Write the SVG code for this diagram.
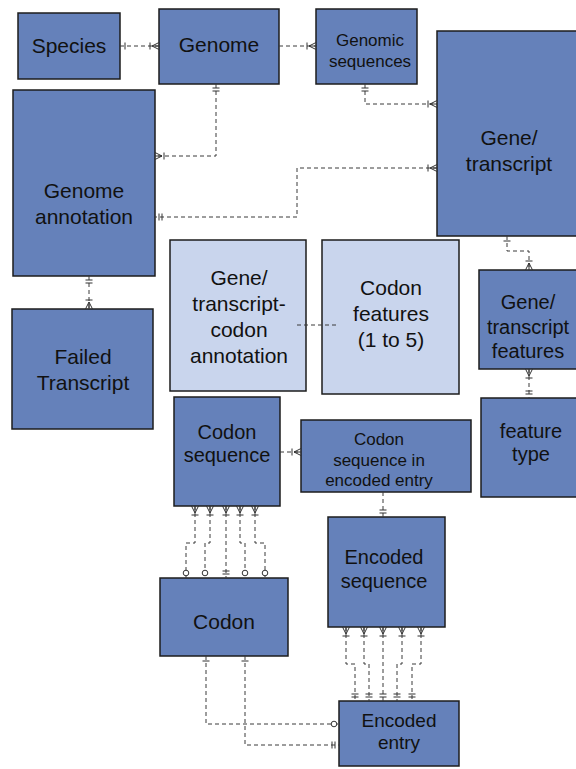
<svg xmlns="http://www.w3.org/2000/svg" width="576" height="769" viewBox="0 0 576 769">
<style>
.b{fill:#6581ba;stroke:#1c1c1c;stroke-width:1.5}
.l{fill:#c9d5ed;stroke:#1c1c1c;stroke-width:1.5}
text{font-family:"Liberation Sans",Arial,sans-serif;fill:#111;text-anchor:middle}
.t21{font-size:21px}
.t17{font-size:17px}
.t20{font-size:20px}
.t19{font-size:19px}
.c path{fill:none;stroke:#3a3a3a;stroke-width:1;stroke-dasharray:4 3}
.m{fill:none;stroke:#333;stroke-width:1}
</style>
<defs>
<marker id="crow" viewBox="-12 -6 13 12" markerWidth="13" markerHeight="12" refX="0" refY="0" orient="auto-start-reverse" markerUnits="userSpaceOnUse">
<path class="m" d="M-7,0 L0,-3.5 M-7,0 L0,0 M-7,0 L0,3.5 M-9,-3.5 V3.5"/>
</marker>
<marker id="dbl" viewBox="-12 -6 13 12" markerWidth="13" markerHeight="12" refX="0" refY="0" orient="auto-start-reverse" markerUnits="userSpaceOnUse">
<path class="m" d="M-4,-3.5 V3.5 M-7,-3.5 V3.5"/>
</marker>
<marker id="one" viewBox="-12 -6 13 12" markerWidth="13" markerHeight="12" refX="0" refY="0" orient="auto-start-reverse" markerUnits="userSpaceOnUse">
<path class="m" d="M-5,-3.5 V3.5"/>
</marker>
<marker id="circ" viewBox="-12 -6 13 12" markerWidth="13" markerHeight="12" refX="0" refY="0" orient="auto-start-reverse" markerUnits="userSpaceOnUse">
<circle cx="-5" cy="0" r="2.8" fill="#fff" stroke="#333" stroke-width="1"/>
</marker>
</defs>

<g id="species"><rect class="b" x="18" y="13" width="102" height="66"/><text class="t21" x="69" y="53">Species</text></g>
<g id="genome"><rect class="b" x="159" y="9" width="120" height="75"/><text class="t21" x="219" y="52">Genome</text></g>
<g id="genomic-sequences"><rect class="b" x="316" y="9" width="101" height="75"/><text class="t17" x="370" y="46">Genomic</text><text class="t17" x="370" y="67">sequences</text></g>
<g id="gene-transcript"><rect class="b" x="437" y="31" width="141" height="205"/><text class="t21" x="509" y="145">Gene/</text><text class="t21" x="509" y="171">transcript</text></g>
<g id="genome-annotation"><rect class="b" x="13" y="90" width="142" height="186"/><text class="t21" x="84" y="198">Genome</text><text class="t21" x="84" y="224">annotation</text></g>
<g id="failed-transcript"><rect class="b" x="12" y="309" width="141" height="120"/><text class="t21" x="83" y="364">Failed</text><text class="t21" x="83" y="390">Transcript</text></g>
<g id="gene-transcript-codon-annotation"><rect class="l" x="170" y="240" width="136" height="151"/><text class="t21" x="239" y="285">Gene/</text><text class="t21" x="239" y="311">transcript-</text><text class="t21" x="239" y="337">codon</text><text class="t21" x="239" y="363">annotation</text></g>
<g id="codon-features"><rect class="l" x="322" y="240" width="137" height="154"/><text class="t21" x="391" y="295">Codon</text><text class="t21" x="391" y="321">features</text><text class="t21" x="391" y="347">(1 to 5)</text></g>
<g id="gene-transcript-features"><rect class="b" x="479" y="270" width="98" height="99"/><text class="t20" x="528" y="309">Gene/</text><text class="t20" x="528" y="334">transcript</text><text class="t20" x="528" y="358">features</text></g>
<g id="feature-type"><rect class="b" x="481" y="398" width="96" height="99"/><text class="t20" x="531" y="438">feature</text><text class="t20" x="531" y="461">type</text></g>
<g id="codon-sequence"><rect class="b" x="174" y="397" width="106" height="109"/><text class="t20" x="227" y="439">Codon</text><text class="t20" x="227" y="462">sequence</text></g>
<g id="codon-sequence-in-encoded-entry"><rect class="b" x="301" y="420" width="170" height="72"/><text class="t17" x="379" y="445">Codon</text><text class="t17" x="379" y="466">sequence in</text><text class="t17" x="379" y="486">encoded entry</text></g>
<g id="encoded-sequence"><rect class="b" x="328" y="517" width="117" height="110"/><text class="t20" x="384" y="564">Encoded</text><text class="t20" x="384" y="588">sequence</text></g>
<g id="codon"><rect class="b" x="160" y="578" width="128" height="78"/><text class="t21" x="224" y="629">Codon</text></g>
<g id="encoded-entry"><rect class="b" x="339" y="701" width="120" height="65"/><text class="t19" x="399" y="727">Encoded</text><text class="t19" x="399" y="749">entry</text></g>

<g id="connectors" class="c">
<path d="M120,46 H159" marker-start="url(#one)" marker-end="url(#crow)"/>
<path d="M279,46 H316" marker-end="url(#crow)"/>
<path d="M216,84 V156 H155" marker-start="url(#dbl)" marker-end="url(#crow)"/>
<path d="M365,84 V104 H437" marker-start="url(#dbl)" marker-end="url(#crow)"/>
<path d="M437,168 H297 V217 H155" marker-start="url(#crow)" marker-end="url(#dbl)"/>
<path d="M89,276 V309" marker-start="url(#dbl)" marker-end="url(#crow)"/>
<path d="M297,325 H336"/>
<path d="M507,236 V251 H529 V270" marker-start="url(#one)" marker-end="url(#crow)"/>
<path d="M529,369 V398" marker-start="url(#crow)" marker-end="url(#dbl)"/>
<path d="M280,452 H301" marker-end="url(#crow)"/>
<path d="M383,492 V517" marker-end="url(#dbl)"/>
<path d="M195,506 V543 H186 V578" marker-start="url(#crow)" marker-end="url(#circ)"/>
<path d="M210,506 V543 H205 V578" marker-start="url(#crow)" marker-end="url(#circ)"/>
<path d="M226,506 V578" marker-start="url(#crow)" marker-end="url(#dbl)"/>
<path d="M240,506 V543 H245 V578" marker-start="url(#crow)" marker-end="url(#circ)"/>
<path d="M255,506 V543 H265 V578" marker-start="url(#crow)" marker-end="url(#circ)"/>
<path d="M346,627 V664 H355 V701" marker-start="url(#crow)" marker-end="url(#dbl)"/>
<path d="M364,627 V664 H369 V701" marker-start="url(#crow)" marker-end="url(#dbl)"/>
<path d="M383,627 V701" marker-start="url(#crow)" marker-end="url(#dbl)"/>
<path d="M402,627 V664 H397 V701" marker-start="url(#crow)" marker-end="url(#dbl)"/>
<path d="M421,627 V664 H412 V701" marker-start="url(#crow)" marker-end="url(#dbl)"/>
<path d="M206,656 V724 H339" marker-start="url(#one)" marker-end="url(#circ)"/>
<path d="M245,656 V745 H339" marker-start="url(#one)" marker-end="url(#dbl)"/>
</g>
</svg>
